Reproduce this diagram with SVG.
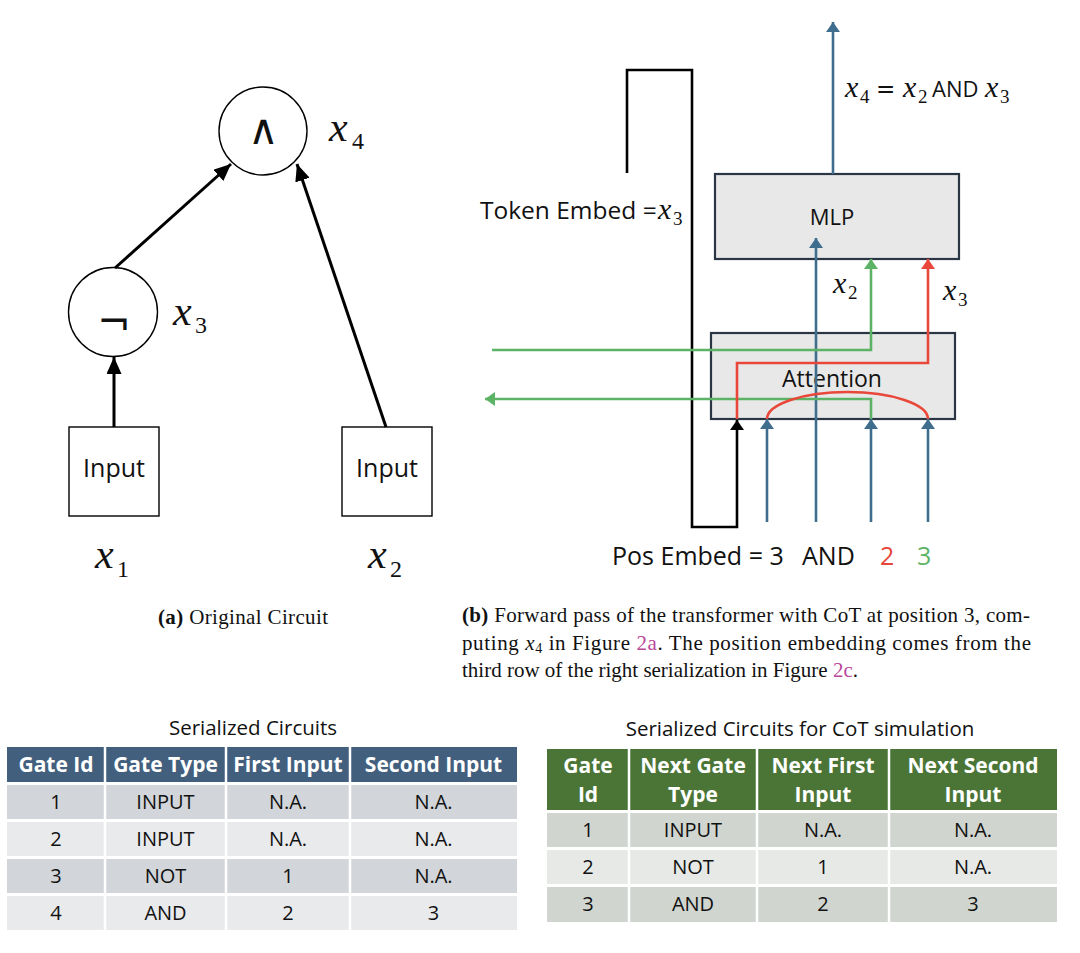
<svg xmlns="http://www.w3.org/2000/svg" width="1080" height="953" viewBox="0 0 1080 953">
<defs>
<style>
.sans{font-family:"Open Sans","Liberation Sans",sans-serif;fill:#111;}
.sym{font-family:"DejaVu Sans","Liberation Sans",sans-serif;fill:#111;}
.math{font-family:"Liberation Serif","Times New Roman",serif;font-style:italic;fill:#111;}
.sub{font-family:"Liberation Serif","Times New Roman",serif;fill:#111;}
.cap{font-family:"Liberation Serif","Times New Roman",serif;font-size:21px;fill:#111;}
.link{fill:#b9479b;}
.gate{fill:#fff;stroke:#000;stroke-width:1.4;}
.block{fill:#e8e8e8;stroke:#2a3644;stroke-width:2.2;}
.blk{stroke:#000;stroke-width:3;fill:none;}
.fb{stroke:#000;stroke-width:2.6;fill:none;}
.blue{stroke:#3f6d8e;stroke-width:2.6;fill:none;}
.green{stroke:#5db365;stroke-width:2.6;fill:none;}
.red{stroke:#e8473a;stroke-width:2.6;fill:none;}
.th{font-family:"Open Sans","Liberation Sans",sans-serif;font-weight:bold;font-size:21px;fill:#fff;text-anchor:middle;}
.td{font-family:"Open Sans","Liberation Sans",sans-serif;font-size:20px;fill:#111;text-anchor:middle;}
.sep{stroke:#fff;stroke-width:2.5;}
</style>
<marker id="aK" markerUnits="userSpaceOnUse" markerWidth="17" markerHeight="15" refX="17" refY="7.5" orient="auto"><path d="M0,0 L17,7.5 L0,15 z" fill="#000"/></marker>
<marker id="aB" markerUnits="userSpaceOnUse" markerWidth="10" markerHeight="14" refX="10" refY="7" orient="auto"><path d="M0,0 L10,7 L0,14 z" fill="#3f6d8e"/></marker>
<marker id="aG" markerUnits="userSpaceOnUse" markerWidth="10" markerHeight="14" refX="10" refY="7" orient="auto"><path d="M0,0 L10,7 L0,14 z" fill="#5db365"/></marker>
<marker id="aR" markerUnits="userSpaceOnUse" markerWidth="10" markerHeight="14" refX="10" refY="7" orient="auto"><path d="M0,0 L10,7 L0,14 z" fill="#e8473a"/></marker>
<marker id="aF" markerUnits="userSpaceOnUse" markerWidth="10" markerHeight="14" refX="10" refY="7" orient="auto"><path d="M0,0 L10,7 L0,14 z" fill="#000"/></marker>
</defs>
<rect width="1080" height="953" fill="#fff"/>

<!-- (a) circuit -->
<g id="n-and">
<circle class="gate" cx="263" cy="131" r="44"/>
<text x="263" y="144" class="sym" font-size="42" font-weight="300" text-anchor="middle">∧</text>
<text x="329" y="141" class="math" font-size="42">x</text><text x="352" y="149" class="sub" font-size="24">4</text>
</g>
<g id="n-not">
<circle class="gate" cx="113" cy="312" r="44.5"/>
<text x="114" y="336" class="sym" font-size="40" text-anchor="middle">¬</text>
<text x="173" y="325" class="math" font-size="42">x</text><text x="195" y="333" class="sub" font-size="24">3</text>
</g>
<g id="n-in1">
<rect class="gate" x="69" y="427" width="90" height="89"/>
<text x="114" y="477" class="sans" font-size="25" text-anchor="middle">Input</text>
<text x="95" y="568" class="math" font-size="42">x</text><text x="117" y="577" class="sub" font-size="24">1</text>
</g>
<g id="n-in2">
<rect class="gate" x="342" y="427" width="90" height="89"/>
<text x="387" y="477" class="sans" font-size="25" text-anchor="middle">Input</text>
<text x="368" y="568" class="math" font-size="42">x</text><text x="390" y="577" class="sub" font-size="24">2</text>
</g>
<g id="edges-a">
<line class="blk" x1="114" y1="427" x2="114" y2="357" marker-end="url(#aK)"/>
<line class="blk" x1="115" y1="268" x2="231" y2="164" marker-end="url(#aK)"/>
<line class="blk" x1="386" y1="427" x2="297" y2="164" marker-end="url(#aK)"/>
</g>

<!-- (b) transformer -->
<g id="n-mlp">
<rect class="block" x="715" y="174" width="244" height="85"/>
<text x="832" y="225" class="sans" font-size="22" text-anchor="middle">MLP</text>
</g>
<g id="n-attn">
<rect class="block" x="711" y="333" width="244" height="86"/>
<text x="832" y="387" class="sans" font-size="23" text-anchor="middle">Attention</text>
</g>
<g id="edges-b">
<path class="fb" d="M627,173 V70 H692 V527 H737 V420" marker-end="url(#aF)"/>
<line class="blue" x1="833" y1="174" x2="833" y2="22" marker-end="url(#aB)"/>
<line class="blue" x1="767" y1="522" x2="767" y2="419" marker-end="url(#aB)"/>
<line class="blue" x1="816" y1="522" x2="816" y2="238" marker-end="url(#aB)"/>
<line class="blue" x1="871" y1="522" x2="871" y2="419" marker-end="url(#aB)"/>
<line class="blue" x1="928" y1="522" x2="928" y2="419" marker-end="url(#aB)"/>
<path class="green" d="M492,350 H871 V259" marker-end="url(#aG)"/>
<path class="green" d="M871,419 V399 H485" marker-end="url(#aG)"/>
<path class="red" d="M737,419 V363 H928 V259" marker-end="url(#aR)"/>
<path class="red" d="M767,419 A80.5,27 0 0 1 928,419"/>
</g>
<g id="labels-b">
<text x="480" y="219" class="sans" font-size="24.5">Token Embed =</text>
<text x="658" y="219" class="math" font-size="30">x</text><text x="673" y="225" class="sub" font-size="19">3</text>
<text x="845" y="97" class="math" font-size="30">x</text><text x="860" y="103" class="sub" font-size="19">4</text>
<text x="876" y="97" class="sym" font-size="23">=</text>
<text x="903" y="97" class="math" font-size="30">x</text><text x="918" y="103" class="sub" font-size="19">2</text>
<text x="932" y="97" class="sans" font-size="22">AND</text>
<text x="985" y="97" class="math" font-size="30">x</text><text x="1000" y="103" class="sub" font-size="19">3</text>
<text x="833" y="293" class="math" font-size="30">x</text><text x="848" y="299" class="sub" font-size="19">2</text>
<text x="943" y="300" class="math" font-size="30">x</text><text x="958" y="306" class="sub" font-size="19">3</text>
<text x="612" y="565" class="sans" font-size="25">Pos Embed = 3</text>
<text x="802" y="565" class="sans" font-size="25">AND</text>
<text x="880" y="565" class="sans" font-size="25" style="fill:#e8473a">2</text>
<text x="917" y="565" class="sans" font-size="25" style="fill:#5db365">3</text>
</g>

<!-- captions -->
<g id="captions">
<text x="158" y="624" class="cap" textLength="170" lengthAdjust="spacing"><tspan font-weight="bold">(a)</tspan> Original Circuit</text>
<text x="462" y="622" class="cap" textLength="568" lengthAdjust="spacing"><tspan font-weight="bold">(b)</tspan> Forward pass of the transformer with CoT at position 3, com-</text>
<text x="462" y="650" class="cap" textLength="569" lengthAdjust="spacing">puting <tspan font-style="italic">x</tspan><tspan font-size="14" dy="3">4</tspan><tspan dy="-3"> in Figure </tspan><tspan class="link">2a</tspan>.  The position embedding comes from the</text>
<text x="462" y="677" class="cap">third row of the right serialization in Figure <tspan class="link">2c</tspan>.</text>
</g>

<!-- left table -->
<g id="table-serialized">
<text x="253" y="735" class="sans" font-size="20.5" text-anchor="middle">Serialized Circuits</text>
<rect x="7" y="747" width="510" height="35" fill="#425f7e"/>
<rect x="7" y="785" width="510" height="34" fill="#d2d5d9"/>
<rect x="7" y="822" width="510" height="34" fill="#e8eaec"/>
<rect x="7" y="859" width="510" height="34" fill="#d2d5d9"/>
<rect x="7" y="896" width="510" height="34" fill="#e8eaec"/>
<line class="sep" x1="105" y1="747" x2="105" y2="930"/>
<line class="sep" x1="226" y1="747" x2="226" y2="930"/>
<line class="sep" x1="350" y1="747" x2="350" y2="930"/>
<text class="th" x="56" y="772">Gate Id</text>
<text class="th" x="165.5" y="772">Gate Type</text>
<text class="th" x="288" y="772">First Input</text>
<text class="th" x="433.5" y="772">Second Input</text>
<text class="td" x="56" y="809">1</text><text class="td" x="165.5" y="809">INPUT</text><text class="td" x="288" y="809">N.A.</text><text class="td" x="433.5" y="809">N.A.</text>
<text class="td" x="56" y="846">2</text><text class="td" x="165.5" y="846">INPUT</text><text class="td" x="288" y="846">N.A.</text><text class="td" x="433.5" y="846">N.A.</text>
<text class="td" x="56" y="883">3</text><text class="td" x="165.5" y="883">NOT</text><text class="td" x="288" y="883">1</text><text class="td" x="433.5" y="883">N.A.</text>
<text class="td" x="56" y="920">4</text><text class="td" x="165.5" y="920">AND</text><text class="td" x="288" y="920">2</text><text class="td" x="433.5" y="920">3</text>
</g>

<!-- right table -->
<g id="table-cot">
<text x="800" y="736" class="sans" font-size="20.5" text-anchor="middle">Serialized Circuits for CoT simulation</text>
<rect x="547" y="749" width="510" height="61" fill="#4a7536"/>
<rect x="547" y="813" width="510" height="34" fill="#d0d5cf"/>
<rect x="547" y="850" width="510" height="34" fill="#e6e9e5"/>
<rect x="547" y="887" width="510" height="35" fill="#d0d5cf"/>
<line class="sep" x1="629" y1="749" x2="629" y2="922"/>
<line class="sep" x1="757" y1="749" x2="757" y2="922"/>
<line class="sep" x1="889" y1="749" x2="889" y2="922"/>
<text class="th" x="588" y="773">Gate</text><text class="th" x="588" y="802">Id</text>
<text class="th" x="693" y="773">Next Gate</text><text class="th" x="693" y="802">Type</text>
<text class="th" x="823" y="773">Next First</text><text class="th" x="823" y="802">Input</text>
<text class="th" x="973" y="773">Next Second</text><text class="th" x="973" y="802">Input</text>
<text class="td" x="588" y="837">1</text><text class="td" x="693" y="837">INPUT</text><text class="td" x="823" y="837">N.A.</text><text class="td" x="973" y="837">N.A.</text>
<text class="td" x="588" y="874">2</text><text class="td" x="693" y="874">NOT</text><text class="td" x="823" y="874">1</text><text class="td" x="973" y="874">N.A.</text>
<text class="td" x="588" y="911">3</text><text class="td" x="693" y="911">AND</text><text class="td" x="823" y="911">2</text><text class="td" x="973" y="911">3</text>
</g>
</svg>
